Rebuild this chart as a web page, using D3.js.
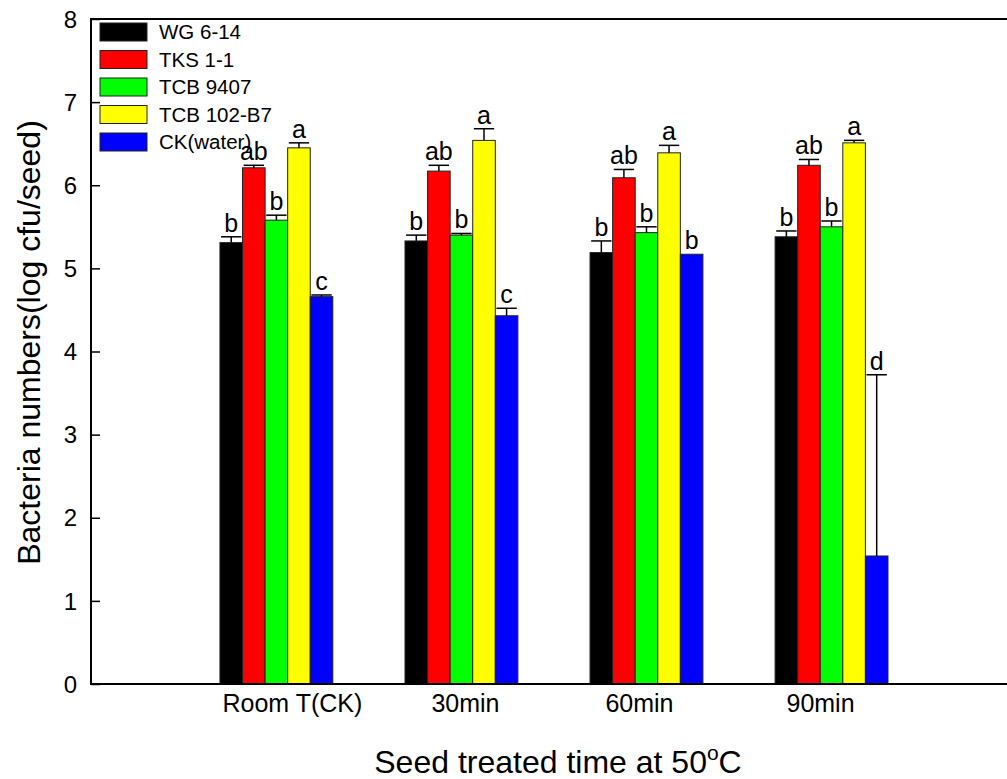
<!DOCTYPE html>
<html>
<head>
<meta charset="utf-8">
<script src="https://cdn.jsdelivr.net/npm/d3@7"></script>
<style>
  body { margin: 0; background: #fff; }
  text { font-family: Arial, "Liberation Sans", sans-serif; fill: #000; }
</style>
</head>
<body>
<div id="chart"></div>
<script>
// Categories on the x-axis
const categories = ["Room T(CK)", "30min", "60min", "90min"];

// Series (legend order)
const seriesNames = ["WG 6-14", "TKS 1-1", "TCB 9407", "TCB 102-B7", "CK(water)"];
const seriesColours = ["#000000", "#ff0000", "#00ff00", "#ffff00", "#0000ff"];

// Means (log cfu/seed), one array per series, in category order
const wg614 = [5.31, 5.33, 5.19, 5.38];
const tks11 = [6.21, 6.17, 6.09, 6.24];
const tcb9407 = [5.58, 5.40, 5.43, 5.50];
const tcb102b7 = [6.45, 6.54, 6.39, 6.51];
const ckWater = [4.66, 4.43, 5.17, 1.54];

// Upper error bars
const wg614Err = [0.07, 0.07, 0.14, 0.07];
const tks11Err = [0.03, 0.07, 0.1, 0.07];
const tcb9407Err = [0.06, 0.02, 0.07, 0.07];
const tcb102b7Err = [0.06, 0.14, 0.09, 0.03];
const ckWaterErr = [0.02, 0.09, 0, 2.18];

// Significance letters
const wg614Sig = ["b", "b", "b", "b"];
const tks11Sig = ["ab", "ab", "ab", "ab"];
const tcb9407Sig = ["b", "b", "b", "b"];
const tcb102b7Sig = ["a", "a", "a", "a"];
const ckWaterSig = ["c", "c", "b", "d"];

// y-axis ticks
const yTicks = [0, 1, 2, 3, 4, 5, 6, 7, 8];

const seriesValues = [wg614, tks11, tcb9407, tcb102b7, ckWater];
const seriesErrors = [wg614Err, tks11Err, tcb9407Err, tcb102b7Err, ckWaterErr];
const seriesLetters = [wg614Sig, tks11Sig, tcb9407Sig, tcb102b7Sig, ckWaterSig];

// Flat table for drawing
const bars = [];
seriesNames.forEach((name, i) => {
  categories.forEach((cat, j) => {
    bars.push({
      series: name,
      colour: seriesColours[i],
      category: cat,
      value: seriesValues[i][j],
      err: seriesErrors[i][j],
      letter: seriesLetters[i][j],
    });
  });
});

// Sizes
const width = 1007;
const height = 779;
const plot = { left: 91, right: 1007, top: 19, bottom: 684 };

// small nudges of the category labels, as in the original export
const labelShift = [16, 4, -7, -11];

const svg = d3
  .select("#chart")
  .append("svg")
  .attr("width", width)
  .attr("height", height);

// Scales
const xScale = d3
  .scaleBand()
  .domain(categories)
  .range([plot.left, plot.right])
  .paddingInner(0.39)
  .paddingOuter(0.67)
  .align(0.52);

const xInner = d3
  .scaleBand()
  .domain(seriesNames)
  .range([0, xScale.bandwidth()]);

const yScale = d3.scaleLinear().domain([0, 8]).range([plot.bottom, plot.top]);

// Bars
svg
  .append("g")
  .selectAll("rect")
  .data(bars)
  .enter()
  .append("rect")
  .attr("x", (d) => xScale(d.category) + xInner(d.series))
  .attr("y", (d) => yScale(d.value))
  .attr("width", xInner.bandwidth())
  .attr("height", (d) => yScale(0) - yScale(d.value))
  .attr("fill", (d) => d.colour)
  .attr("stroke", "#222")
  .attr("stroke-width", 1);

// Error bars (upper only)
const capWidth = xInner.bandwidth() * 0.9;
const errG = svg
  .append("g")
  .attr("stroke", "#000")
  .attr("stroke-width", 1.5)
  .selectAll("g")
  .data(bars.filter((d) => d.err > 0))
  .enter()
  .append("g");

errG
  .append("line")
  .attr("x1", (d) => xScale(d.category) + xInner(d.series) + xInner.bandwidth() / 2)
  .attr("x2", (d) => xScale(d.category) + xInner(d.series) + xInner.bandwidth() / 2)
  .attr("y1", (d) => yScale(d.value))
  .attr("y2", (d) => yScale(d.value + d.err));

errG
  .append("line")
  .attr("x1", (d) => xScale(d.category) + xInner(d.series) + (xInner.bandwidth() - capWidth) / 2)
  .attr("x2", (d) => xScale(d.category) + xInner(d.series) + (xInner.bandwidth() + capWidth) / 2)
  .attr("y1", (d) => yScale(d.value + d.err))
  .attr("y2", (d) => yScale(d.value + d.err));

// Significance letters
svg
  .append("g")
  .selectAll("text")
  .data(bars)
  .enter()
  .append("text")
  .attr("x", (d) => xScale(d.category) + xInner(d.series) + xInner.bandwidth() / 2)
  .attr("y", (d) => yScale(d.value + d.err) - 5)
  .attr("text-anchor", "middle")
  .style("font-size", "25px")
  .text((d) => d.letter);

// Frame: left axis, top line, bottom axis
const frame = svg.append("g").attr("stroke", "#000").attr("stroke-width", 2).attr("fill", "none");
frame
  .append("path")
  .attr("d", `M${plot.right + 5},${plot.top}H${plot.left}V${plot.bottom}H${plot.right + 5}`);

// y-axis ticks inside the frame
const yAxis = d3
  .axisRight(yScale)
  .tickValues(yTicks)
  .tickSize(9)
  .tickFormat("");
svg
  .append("g")
  .attr("transform", `translate(${plot.left},0)`)
  .call(yAxis)
  .call((g) => g.select(".domain").remove())
  .call((g) => g.selectAll("line").attr("stroke-width", 1.5));

// y tick labels
svg
  .append("g")
  .selectAll("text")
  .data(yTicks)
  .enter()
  .append("text")
  .attr("x", plot.left - 14)
  .attr("y", (d) => yScale(d))
  .attr("dy", "0.36em")
  .attr("text-anchor", "end")
  .style("font-size", "24px")
  .text((d) => d);

// x category labels
svg
  .append("g")
  .selectAll("text")
  .data(categories)
  .enter()
  .append("text")
  .attr("x", (d, i) => xScale(d) + xScale.bandwidth() / 2 + labelShift[i])
  .attr("y", plot.bottom + 28)
  .attr("text-anchor", "middle")
  .style("font-size", "25px")
  .text((d) => d);

// Axis titles
svg
  .append("text")
  .attr("transform", `translate(40,${(plot.top + plot.bottom) / 2 - 9}) rotate(-90)`)
  .attr("text-anchor", "middle")
  .style("font-size", "32px")
  .text("Bacteria numbers(log cfu/seed)");

const xTitle = svg
  .append("text")
  .attr("x", 558)
  .attr("y", 773)
  .attr("text-anchor", "middle")
  .style("font-size", "32px");
xTitle.append("tspan").text("Seed treated time at 50");
xTitle.append("tspan").attr("dy", -13).style("font-size", "21px").text("o");
xTitle.append("tspan").attr("dy", 13).text("C");

// Legend
const legend = svg
  .append("g")
  .selectAll("g")
  .data(seriesNames)
  .enter()
  .append("g")
  .attr("transform", (d, i) => `translate(100,${23 + i * 27.5})`);

legend
  .append("rect")
  .attr("width", 47)
  .attr("height", 18)
  .attr("fill", (d, i) => seriesColours[i])
  .attr("stroke", "#222")
  .attr("stroke-width", 1);

legend
  .append("text")
  .attr("x", 59)
  .attr("y", 9)
  .attr("dy", "0.36em")
  .style("font-size", "20.5px")
  .text((d) => d);
</script>
</body>
</html>
